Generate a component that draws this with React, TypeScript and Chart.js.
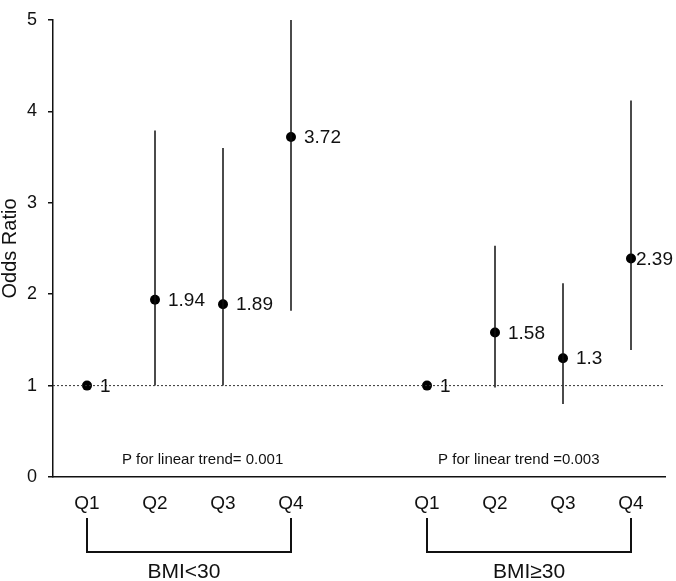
import React, { useEffect, useRef } from "react";
import { Chart, registerables } from "chart.js";

Chart.register(...registerables);

// ---- data ----
const GROUPS = ["BMI<30", "BMI≥30"];
const QUARTILES = ["Q1", "Q2", "Q3", "Q4"];
const X_POS = [0, 1, 2, 3, 5, 6, 7, 8];
const ODDS = [1, 1.94, 1.89, 3.72, 1, 1.58, 1.3, 2.39];
const CI_LOW: (number | null)[] = [null, 1.0, 1.0, 1.82, null, 0.98, 0.8, 1.39];
const CI_HIGH: (number | null)[] = [null, 3.79, 3.6, 5.0, null, 2.53, 2.12, 4.12];
const P_TREND = ["P for linear trend= 0.001", "P for linear trend =0.003"];
const Y_MIN = 0;
const Y_MAX = 5;
const REF_Y = 1;

const FONT = '"Liberation Sans", Arial, Helvetica, sans-serif';
const INK = "#111111";

const annotPlugin = {
  id: "annot",
  afterDatasetsDraw(chart: any) {
    const { ctx, scales } = chart;
    const x = scales.x;
    const y = scales.y;
    const bottom = chart.chartArea.bottom;
    ctx.save();
    ctx.fillStyle = INK;
    ctx.strokeStyle = INK;

    // value labels
    ctx.font = `19px ${FONT}`;
    ctx.textAlign = "left";
    ctx.textBaseline = "middle";
    ODDS.forEach((v, i) => {
      const dx = i === 7 ? 5 : 13;
      ctx.fillText(String(v), x.getPixelForValue(X_POS[i]) + dx, y.getPixelForValue(v) + 1);
    });

    // p trend text
    const pX = [1.7, 6.35];
    ctx.font = `15px ${FONT}`;
    ctx.textAlign = "center";
    P_TREND.forEach((t, g) => {
      ctx.fillText(t, x.getPixelForValue(pX[g]), y.getPixelForValue(0) - 17);
    });

    // brackets + group labels
    ctx.lineWidth = 2;
    GROUPS.forEach((label, g) => {
      const x0 = x.getPixelForValue(X_POS[g * 4]);
      const x1 = x.getPixelForValue(X_POS[g * 4 + 3]);
      const yTop = bottom + 41;
      const yBot = bottom + 75;
      ctx.beginPath();
      ctx.moveTo(x0, yTop);
      ctx.lineTo(x0, yBot);
      ctx.lineTo(x1, yBot);
      ctx.lineTo(x1, yTop);
      ctx.stroke();
      ctx.font = `21px ${FONT}`;
      ctx.textAlign = "center";
      ctx.textBaseline = "middle";
      ctx.fillText(label, (x0 + x1) / 2 + (g === 0 ? -5 : 0), bottom + 95);
    });
    ctx.restore();
  },
};

export default function App() {
  const ref = useRef<HTMLCanvasElement | null>(null);

  useEffect(() => {
    if (!ref.current) return;

    const ciData: any[] = [];
    X_POS.forEach((xv, i) => {
      if (CI_LOW[i] != null && CI_HIGH[i] != null) {
        ciData.push({ x: xv, y: CI_LOW[i] });
        ciData.push({ x: xv, y: CI_HIGH[i] });
        ciData.push({ x: xv, y: null });
      }
    });

    const chart = new Chart(ref.current, {
      type: "scatter",
      data: {
        datasets: [
          {
            label: "ref",
            data: [
              { x: -0.5, y: REF_Y },
              { x: 8.5, y: REF_Y },
            ],
            showLine: true,
            borderColor: "#333333",
            borderWidth: 1,
            borderDash: [2, 2],
            pointRadius: 0,
          } as any,
          {
            label: "ci",
            data: ciData,
            showLine: true,
            spanGaps: false,
            borderColor: INK,
            borderWidth: 1.5,
            pointRadius: 0,
          } as any,
          {
            label: "or",
            data: X_POS.map((xv, i) => ({ x: xv, y: ODDS[i] })),
            backgroundColor: "#000000",
            borderColor: "#000000",
            pointRadius: 5,
            borderWidth: 0,
          } as any,
        ],
      },
      options: {
        responsive: false,
        animation: false,
        devicePixelRatio: 1,
        layout: { padding: { top: 10, right: 11, left: 0, bottom: 0 } },
        plugins: {
          legend: { display: false },
          tooltip: { enabled: false },
        },
        scales: {
          x: {
            type: "linear",
            min: -0.5,
            max: 8.5,
            afterBuildTicks: (scale: any) => {
              scale.ticks = X_POS.map((v) => ({ value: v }));
            },
            afterFit: (scale: any) => {
              scale.height = 104;
            },
            ticks: {
              autoSkip: false,
              maxRotation: 0,
              padding: 15,
              color: INK,
              font: { family: FONT, size: 19 },
              callback: (v: any) => {
                const i = X_POS.indexOf(Number(v));
                return i >= 0 ? QUARTILES[i % 4] : "";
              },
            },
            grid: { display: true, drawOnChartArea: false, drawTicks: false },
            border: { display: true, color: INK, width: 1.5 },
          },
          y: {
            type: "linear",
            min: Y_MIN,
            max: Y_MAX,
            afterFit: (scale: any) => {
              scale.width = 53;
            },
            ticks: {
              stepSize: 1,
              padding: 11,
              color: INK,
              font: { family: FONT, size: 18, lineHeight: 1 },
            },
            grid: {
              display: true,
              drawOnChartArea: false,
              drawTicks: true,
              tickLength: 5,
              color: INK,
              lineWidth: 1.5,
            },
            border: { display: true, color: INK, width: 1.5 },
            title: {
              display: true,
              text: "Odds Ratio",
              color: INK,
              padding: 0,
              font: { family: FONT, size: 20, lineHeight: 1 },
            },
          },
        },
      },
      plugins: [annotPlugin],
    });

    return () => chart.destroy();
  }, []);

  return (
    <div style={{ position: "fixed", left: 0, top: 0, width: 676, height: 581, background: "#fff" }}>
      <canvas ref={ref} width={676} height={581} style={{ display: "block" }} />
    </div>
  );
}
